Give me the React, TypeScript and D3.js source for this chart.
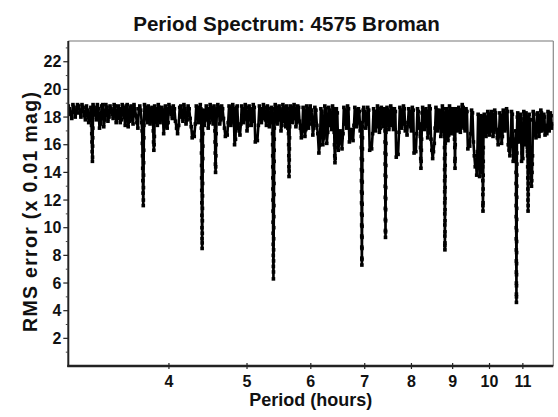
import * as d3 from "d3";

const title = "Period Spectrum: 4575 Broman";
const xLabel = "Period (hours)";
const yLabel = "RMS error (x 0.01 mag)";
const xTicks = [4, 5, 6, 7, 8, 9, 10, 11];
const yTicks = [2, 4, 6, 8, 10, 12, 14, 16, 18, 20, 22];
const yMinorTicks = [1, 3, 5, 7, 9, 11, 13, 15, 17, 19, 21, 23];

// [period (h), rms error (x 0.01 mag)]
const spectrum: [number, number][] = [
  [3.0, 18.8], [3.01, 18.6], [3.02, 18.2], [3.03, 17.9], [3.04, 18.9], [3.05, 18.7], [3.06, 18.0], [3.07, 18.3], [3.08, 18.9],
  [3.09, 18.8], [3.1, 18.3], [3.11, 18.0], [3.12, 18.9], [3.13, 18.7], [3.14, 18.1], [3.15, 17.8], [3.16, 18.8], [3.17, 18.5],
  [3.18, 17.6], [3.19, 17.9], [3.2, 18.7], [3.203, 18.4],
  [3.206, 17.4], [3.208, 16.8], [3.21, 16.2], [3.212, 15.5], [3.214, 14.8], [3.215, 15.1], [3.216, 15.9], [3.217, 16.5], [3.218, 17.2],
  [3.22, 18.9], [3.23, 18.7], [3.24, 18.2], [3.25, 17.8], [3.26, 18.9], [3.27, 18.6], [3.28, 17.2], [3.29, 17.5], [3.3, 18.8],
  [3.31, 18.9], [3.32, 17.3], [3.33, 17.8], [3.34, 18.9], [3.35, 18.7], [3.36, 17.7], [3.37, 18.0], [3.38, 18.8], [3.39, 18.6],
  [3.4, 18.2], [3.41, 17.9], [3.42, 18.9], [3.43, 18.8], [3.44, 17.6], [3.45, 17.9], [3.46, 18.8], [3.47, 18.6], [3.48, 17.6],
  [3.49, 17.8], [3.5, 18.9], [3.51, 18.7], [3.52, 18.0], [3.53, 17.4], [3.54, 18.8], [3.55, 18.9], [3.56, 17.3], [3.57, 17.7],
  [3.58, 18.7], [3.59, 18.8], [3.6, 17.8], [3.61, 17.5], [3.62, 18.9], [3.63, 18.6], [3.64, 18.1], [3.65, 17.6], [3.66, 17.2],
  [3.67, 18.6], [3.68, 18.8], [3.69, 18.5], [3.7, 17.6],
  [3.705, 17.0], [3.707, 16.1], [3.709, 15.2], [3.711, 14.3], [3.713, 13.4], [3.715, 12.5], [3.717, 11.6], [3.718, 12.0], [3.719, 12.9],
  [3.72, 13.8], [3.721, 14.7], [3.722, 15.6], [3.723, 16.5], [3.724, 17.4],
  [3.73, 18.9], [3.74, 18.7], [3.75, 17.9], [3.76, 17.6], [3.77, 18.8], [3.78, 18.6], [3.79, 17.5], [3.8, 17.8], [3.81, 18.7],
  [3.818, 18.5],
  [3.825, 17.0], [3.828, 16.2], [3.831, 15.6], [3.834, 16.0], [3.837, 16.6],
  [3.84, 18.8], [3.85, 18.6], [3.86, 17.9], [3.87, 17.4], [3.88, 18.9], [3.89, 18.7], [3.9, 17.6], [3.91, 17.9], [3.92, 18.7],
  [3.93, 18.5], [3.94, 16.8], [3.95, 17.3], [3.96, 18.8], [3.97, 18.6], [3.98, 17.2], [3.99, 17.6], [4.0, 18.9],
  [4.013, 18.7], [4.025, 18.2], [4.038, 17.9], [4.05, 18.8], [4.063, 18.6], [4.075, 17.7], [4.088, 17.2], [4.1, 16.8], [4.113, 17.4],
  [4.125, 18.7], [4.138, 18.8], [4.15, 18.0], [4.163, 17.7], [4.175, 18.9], [4.188, 18.6], [4.2, 17.5], [4.213, 17.8], [4.225, 18.8],
  [4.238, 18.6], [4.25, 17.9], [4.263, 17.3], [4.275, 16.5], [4.288, 16.9], [4.3, 16.6], [4.313, 17.5], [4.325, 18.8], [4.338, 18.7],
  [4.35, 17.6], [4.363, 17.9], [4.375, 18.9], [4.382, 18.6],
  [4.388, 17.2], [4.389, 16.3], [4.39, 15.4], [4.391, 14.5], [4.392, 13.6], [4.393, 12.7], [4.394, 11.8], [4.395, 10.9], [4.396, 10.0],
  [4.397, 9.2], [4.398, 8.5], [4.399, 8.9], [4.4, 9.6], [4.401, 10.5], [4.402, 11.4], [4.403, 12.3], [4.404, 13.2], [4.405, 14.1],
  [4.406, 15.0], [4.407, 15.9], [4.408, 16.8], [4.409, 17.7],
  [4.417, 18.5], [4.425, 17.4], [4.438, 17.8], [4.45, 18.8], [4.463, 18.6], [4.475, 17.2], [4.488, 17.6], [4.5, 18.9], [4.513, 18.7],
  [4.525, 17.8], [4.538, 17.5], [4.55, 18.8], [4.556, 18.5],
  [4.562, 17.0], [4.564, 16.2], [4.566, 15.4], [4.568, 14.6], [4.57, 14.0], [4.572, 14.4], [4.574, 15.2], [4.576, 16.0], [4.578, 16.8],
  [4.589, 18.6], [4.6, 18.9], [4.613, 18.7], [4.625, 17.5], [4.638, 17.8], [4.65, 18.8], [4.663, 18.6], [4.675, 17.9], [4.688, 17.2],
  [4.7, 16.6], [4.713, 16.9], [4.725, 16.7], [4.738, 17.6], [4.75, 18.8], [4.763, 18.7], [4.775, 17.4], [4.788, 17.7], [4.8, 18.9],
  [4.813, 18.6], [4.825, 16.0], [4.838, 16.4], [4.85, 18.7], [4.863, 18.8], [4.875, 17.2], [4.888, 17.0], [4.9, 16.7], [4.913, 17.5],
  [4.925, 18.8], [4.938, 18.6], [4.95, 17.6], [4.963, 17.9], [4.975, 18.9], [4.988, 18.7], [5.0, 17.0], [5.015, 17.4],
  [5.03, 18.8], [5.045, 18.6], [5.06, 17.4], [5.075, 17.7], [5.09, 18.9], [5.105, 18.7], [5.12, 16.2], [5.135, 16.6], [5.15, 16.3],
  [5.165, 17.4], [5.18, 18.8], [5.195, 18.6], [5.21, 17.6], [5.225, 17.9], [5.24, 18.9], [5.255, 18.7], [5.27, 17.8], [5.285, 17.4],
  [5.3, 18.8], [5.315, 18.6], [5.33, 17.3], [5.345, 17.7], [5.36, 18.7], [5.37, 18.5],
  [5.378, 17.6], [5.379, 16.8], [5.38, 16.0], [5.381, 15.2], [5.382, 14.4], [5.383, 13.6], [5.384, 12.8], [5.385, 12.0], [5.386, 11.2],
  [5.387, 10.4], [5.388, 9.6], [5.389, 8.8], [5.39, 8.0], [5.391, 7.2], [5.392, 6.3], [5.393, 6.8], [5.394, 7.6], [5.395, 8.4],
  [5.396, 9.2], [5.397, 10.0], [5.398, 10.8], [5.399, 11.6], [5.4, 12.4], [5.401, 13.2], [5.402, 14.0], [5.403, 14.8], [5.404, 15.6],
  [5.405, 16.4], [5.406, 17.2],
  [5.413, 18.6], [5.42, 18.9], [5.435, 18.7], [5.45, 17.5], [5.465, 17.8], [5.48, 18.8], [5.495, 18.6], [5.51, 17.0], [5.525, 17.4],
  [5.54, 18.9], [5.555, 18.7], [5.57, 17.7], [5.585, 17.3], [5.6, 18.8], [5.61, 18.6], [5.62, 17.2],
  [5.63, 16.8], [5.632, 16.0], [5.634, 15.2], [5.636, 14.4], [5.638, 13.7], [5.64, 14.1], [5.642, 14.9], [5.644, 15.7], [5.646, 16.5],
  [5.648, 17.3],
  [5.654, 18.6], [5.66, 18.8], [5.675, 18.7], [5.69, 17.6], [5.705, 17.9], [5.72, 18.9], [5.735, 18.6], [5.75, 17.3], [5.765, 17.6],
  [5.78, 18.8], [5.795, 18.7], [5.81, 17.7], [5.825, 17.2], [5.84, 16.5], [5.855, 17.0], [5.87, 18.7], [5.885, 18.5], [5.9, 16.6],
  [5.915, 17.1], [5.93, 18.8], [5.945, 18.6], [5.96, 17.2], [5.975, 17.5], [5.99, 18.8], [6.012, 18.5],
  [6.035, 16.7], [6.052, 17.2], [6.07, 18.7], [6.088, 18.5], [6.105, 17.4], [6.122, 16.8], [6.14, 15.4], [6.158, 16.0], [6.175, 18.6],
  [6.192, 18.4], [6.21, 16.0], [6.228, 16.5], [6.245, 18.8], [6.262, 18.6], [6.28, 16.1], [6.298, 16.9], [6.315, 18.7], [6.332, 18.5],
  [6.35, 17.4], [6.368, 17.1], [6.385, 18.8], [6.4, 18.6],
  [6.415, 16.9], [6.42, 16.0], [6.425, 15.2], [6.429, 14.7], [6.433, 15.0], [6.437, 15.8], [6.441, 16.6],
  [6.448, 18.4], [6.455, 18.6], [6.472, 18.3], [6.49, 15.6], [6.508, 16.2], [6.525, 17.0], [6.542, 16.4], [6.56, 15.7], [6.578, 16.8],
  [6.595, 18.7], [6.612, 18.5], [6.63, 17.5], [6.648, 17.2], [6.665, 18.8], [6.682, 18.6], [6.7, 16.2], [6.718, 16.6], [6.735, 17.1],
  [6.752, 16.5], [6.77, 16.3], [6.788, 17.4], [6.805, 18.7], [6.822, 18.5], [6.84, 17.3], [6.858, 17.6], [6.875, 18.6], [6.892, 18.4],
  [6.91, 17.0], [6.92, 17.6],
  [6.93, 17.4], [6.931, 16.6], [6.932, 15.8], [6.933, 15.0], [6.934, 14.2], [6.935, 13.4], [6.936, 12.6], [6.937, 11.8], [6.938, 11.0],
  [6.939, 10.2], [6.94, 9.4], [6.941, 8.6], [6.942, 7.8], [6.943, 7.3], [6.944, 7.7], [6.945, 8.5], [6.946, 9.3], [6.947, 10.1],
  [6.948, 10.9], [6.949, 11.7], [6.95, 12.5], [6.951, 13.3], [6.952, 14.1], [6.953, 14.9], [6.954, 15.7], [6.955, 16.5], [6.956, 17.3],
  [6.968, 18.5], [6.98, 18.7], [7.0, 18.4],
  [7.02, 17.2], [7.04, 17.5], [7.06, 18.7], [7.08, 18.5], [7.1, 15.6], [7.12, 16.0], [7.14, 15.7], [7.16, 16.8], [7.18, 18.6],
  [7.2, 18.4], [7.22, 17.0], [7.24, 17.3], [7.26, 18.8], [7.28, 18.6], [7.3, 16.9], [7.32, 17.2], [7.34, 18.7], [7.36, 18.5],
  [7.38, 17.3], [7.395, 17.7], [7.41, 18.6], [7.414, 18.3],
  [7.418, 17.0], [7.419, 16.2], [7.42, 15.4], [7.421, 14.6], [7.422, 13.8], [7.423, 13.0], [7.424, 12.2], [7.425, 11.4], [7.426, 10.6],
  [7.427, 9.8], [7.428, 9.3], [7.429, 9.7], [7.43, 10.5], [7.431, 11.3], [7.432, 12.1], [7.433, 12.9], [7.434, 13.7], [7.435, 14.5],
  [7.436, 15.3], [7.437, 16.1], [7.438, 16.9],
  [7.449, 18.5], [7.46, 18.7], [7.48, 18.5], [7.5, 17.1], [7.52, 17.4], [7.54, 18.8], [7.56, 18.6], [7.58, 17.4], [7.6, 17.1],
  [7.62, 18.6], [7.64, 18.4], [7.66, 15.1], [7.68, 15.6], [7.7, 15.3], [7.72, 16.9], [7.74, 18.7], [7.76, 18.5], [7.78, 17.2],
  [7.8, 17.5], [7.82, 18.8], [7.84, 18.6], [7.86, 17.0], [7.88, 17.3], [7.9, 16.7], [7.92, 17.6], [7.94, 18.6], [7.96, 18.4],
  [7.98, 17.3], [8.0, 17.0],
  [8.02, 18.7], [8.04, 18.5], [8.06, 15.4], [8.08, 15.9], [8.1, 15.5], [8.12, 16.8], [8.14, 18.6], [8.16, 18.4], [8.18, 17.2],
  [8.192, 17.5],
  [8.205, 16.6], [8.21, 15.8], [8.215, 15.0], [8.22, 14.3], [8.225, 14.8], [8.23, 15.6], [8.235, 16.4],
  [8.248, 18.3], [8.26, 18.7], [8.28, 18.5], [8.3, 17.1], [8.32, 17.4], [8.34, 18.6], [8.36, 18.4], [8.38, 16.5], [8.4, 16.9],
  [8.42, 18.8], [8.44, 18.6], [8.46, 16.4], [8.48, 15.6], [8.5, 15.0], [8.52, 15.5], [8.54, 16.1], [8.56, 17.2], [8.58, 18.7],
  [8.6, 18.5], [8.62, 17.0], [8.64, 17.3], [8.66, 18.5], [8.68, 18.3], [8.7, 16.6], [8.72, 17.0], [8.74, 18.8], [8.76, 18.6],
  [8.78, 17.0], [8.786, 16.8],
  [8.792, 16.6], [8.793, 15.8], [8.794, 15.0], [8.795, 14.2], [8.796, 13.4], [8.797, 12.6], [8.798, 11.8], [8.799, 11.0], [8.8, 10.2],
  [8.801, 9.4], [8.802, 8.7], [8.803, 8.4], [8.804, 8.9], [8.805, 9.7], [8.806, 10.5], [8.807, 11.3], [8.808, 12.1], [8.809, 12.9],
  [8.81, 13.7], [8.811, 14.5], [8.812, 15.3], [8.813, 16.1], [8.814, 16.9],
  [8.827, 18.3], [8.84, 18.6], [8.86, 18.4], [8.88, 16.3], [8.9, 16.7], [8.92, 18.8], [8.94, 18.6], [8.96, 16.8], [8.98, 17.1],
  [9.0, 18.6], [9.02, 18.4],
  [9.04, 16.8], [9.048, 16.4], [9.055, 15.8], [9.058, 14.8], [9.061, 14.3], [9.064, 15.0], [9.067, 16.0],
  [9.074, 18.4], [9.08, 18.6], [9.1, 18.4], [9.12, 17.0], [9.14, 17.3], [9.16, 18.7], [9.18, 18.5], [9.2, 16.9], [9.225, 17.3],
  [9.25, 18.9], [9.275, 18.7], [9.3, 17.2], [9.325, 17.0], [9.35, 18.6], [9.375, 18.4], [9.4, 15.7], [9.425, 16.1], [9.45, 15.9],
  [9.475, 16.8], [9.5, 18.5], [9.525, 18.3], [9.55, 16.2], [9.575, 15.2], [9.6, 14.4], [9.62, 14.9], [9.64, 13.8], [9.66, 15.5],
  [9.68, 18.2], [9.7, 17.4], [9.72, 13.7], [9.74, 16.0], [9.76, 18.1], [9.775, 17.0], [9.79, 14.0], [9.798, 14.8],
  [9.805, 15.4], [9.807, 14.4], [9.809, 13.4], [9.811, 12.4], [9.813, 11.6], [9.815, 11.2], [9.817, 11.8], [9.819, 12.8], [9.821, 13.8],
  [9.823, 14.8], [9.825, 15.8],
  [9.838, 18.0], [9.85, 18.2], [9.875, 18.0], [9.9, 16.6], [9.925, 16.9], [9.95, 18.4], [9.975, 18.2], [10.0, 16.7], [10.025, 17.0],
  [10.05, 18.4], [10.075, 18.2], [10.1, 16.6], [10.125, 16.9], [10.15, 18.5], [10.175, 18.3], [10.2, 17.1], [10.225, 16.5],
  [10.25, 16.0], [10.275, 16.8], [10.3, 18.3], [10.325, 18.1], [10.35, 16.1], [10.375, 16.6], [10.4, 18.5], [10.425, 18.3],
  [10.45, 17.0], [10.475, 17.3], [10.5, 18.6], [10.525, 18.4], [10.55, 16.0], [10.575, 15.6], [10.6, 15.2], [10.625, 16.4],
  [10.65, 18.4], [10.675, 18.2], [10.7, 14.8], [10.725, 15.4], [10.75, 15.3], [10.765, 16.2], [10.78, 17.0],
  [10.785, 16.4], [10.786, 15.6], [10.787, 14.8], [10.788, 14.0], [10.789, 13.2], [10.79, 12.4], [10.791, 11.6], [10.792, 10.8],
  [10.793, 10.0], [10.794, 9.2], [10.795, 8.4], [10.796, 7.6], [10.797, 6.8], [10.798, 6.0], [10.799, 5.2], [10.8, 4.6], [10.801, 5.0],
  [10.802, 5.8], [10.803, 6.6], [10.804, 7.4], [10.805, 8.2], [10.806, 9.0], [10.807, 9.8], [10.808, 10.6], [10.809, 11.4],
  [10.81, 12.2], [10.811, 13.0], [10.812, 13.8], [10.813, 14.6], [10.814, 15.4], [10.815, 16.2], [10.816, 17.0],
  [10.828, 18.0], [10.84, 18.3], [10.86, 18.1], [10.88, 16.2], [10.9, 16.6], [10.92, 18.2], [10.94, 17.9], [10.96, 14.8],
  [10.98, 15.4], [11.0, 15.0], [11.015, 16.6], [11.03, 18.4], [11.045, 18.2], [11.06, 16.0], [11.08, 16.4], [11.1, 18.3],
  [11.12, 18.0], [11.14, 15.8], [11.145, 15.5],
  [11.15, 15.2], [11.153, 14.4], [11.156, 13.6], [11.159, 12.8], [11.162, 12.0], [11.165, 11.2], [11.168, 11.6], [11.171, 12.4],
  [11.174, 13.2], [11.177, 14.0], [11.18, 14.8], [11.183, 15.6],
  [11.19, 17.6], [11.2, 18.2], [11.215, 17.8], [11.23, 15.4], [11.24, 15.0],
  [11.25, 14.8], [11.258, 14.2], [11.266, 13.6], [11.275, 13.0], [11.284, 13.4], [11.292, 14.0], [11.3, 14.6], [11.308, 15.2],
  [11.318, 17.8], [11.33, 18.4], [11.355, 18.2], [11.38, 17.0], [11.4, 16.7], [11.42, 16.5], [11.445, 17.3], [11.47, 18.3],
  [11.495, 18.1], [11.52, 16.6], [11.55, 17.0], [11.58, 18.5], [11.6, 18.3], [11.62, 17.0], [11.65, 17.3], [11.68, 18.2],
  [11.7, 18.0], [11.72, 16.7], [11.75, 17.1], [11.78, 16.8], [11.8, 17.4], [11.82, 18.4], [11.84, 18.2], [11.86, 17.0],
  [11.88, 17.4], [11.9, 18.3], [11.925, 18.1], [11.95, 17.2], [11.975, 17.5],
];

const font = "Arial, 'Liberation Sans', sans-serif";

export default function App() {
  const width = 558;
  const height = 417;
  const left = 68.3;
  const right = 553.3;
  const top = 41;
  const bottom = 366;

  const x = d3.scaleLog().domain([3, 12]).range([left, right]);
  const y = d3.scaleLinear().domain([0, 23.5]).range([bottom, top]);
  const line = d3
    .line<[number, number]>()
    .x((d) => x(d[0]))
    .y((d) => y(d[1]));

  return (
    <svg
      width={width}
      height={height}
      viewBox={`0 0 ${width} ${height}`}
      style={{ position: "absolute", left: 0, top: 0, background: "#fff" }}
      fontFamily={font}
      fontWeight="bold"
    >
      <defs>
        <clipPath id="plot-clip">
          <rect x={left} y={top} width={right - left} height={bottom - top} />
        </clipPath>
      </defs>

      <text x={286.5} y={31} textAnchor="middle" fontSize={20.6} fill="#111">
        {title}
      </text>

      {/* frame: light top / right, heavy axes */}
      <line x1={left} x2={right} y1={top} y2={top} stroke="#777" strokeWidth={1.2} />
      <line x1={right} x2={right} y1={top} y2={bottom} stroke="#888" strokeWidth={1.2} />

      <g clipPath="url(#plot-clip)">
        <path
          d={line(spectrum) ?? ""}
          fill="none"
          stroke="#000"
          strokeWidth={2.6}
          strokeLinejoin="miter"
          strokeMiterlimit={2}
        />
        {spectrum.map((d, i) => (
          <rect key={i} x={x(d[0]) - 1.8} y={y(d[1]) - 1.8} width={3.6} height={3.6} fill="#000" />
        ))}
      </g>

      <line x1={left} x2={left} y1={top} y2={bottom + 1} stroke="#222" strokeWidth={2} />
      <line x1={left - 1} x2={right} y1={bottom} y2={bottom} stroke="#222" strokeWidth={2.4} />

      {yMinorTicks.map((t) => (
        <line key={`m${t}`} x1={left - 2.5} x2={left} y1={y(t)} y2={y(t)} stroke="#444" strokeWidth={1} />
      ))}
      {yTicks.map((t) => (
        <g key={t}>
          <line x1={left - 5} x2={left} y1={y(t)} y2={y(t)} stroke="#222" strokeWidth={1.2} />
          <text x={left - 7} y={y(t) + 5.5} textAnchor="end" fontSize={16} fill="#111">
            {t}
          </text>
        </g>
      ))}

      {xTicks.map((t) => (
        <g key={t}>
          <line x1={x(t)} x2={x(t)} y1={bottom - 3} y2={bottom + 3} stroke="#222" strokeWidth={1.2} />
          <text x={x(t)} y={387} textAnchor="middle" fontSize={16} fill="#111">
            {t}
          </text>
        </g>
      ))}

      <text x={(left + right) / 2} y={406} textAnchor="middle" fontSize={18} fill="#111">
        {xLabel}
      </text>
      <text
        transform={`translate(37, 212) rotate(-90)`}
        textAnchor="middle"
        fontSize={19.5}
        textLength={240}
        lengthAdjust="spacing"
        fill="#111"
      >
        {yLabel}
      </text>
    </svg>
  );
}
